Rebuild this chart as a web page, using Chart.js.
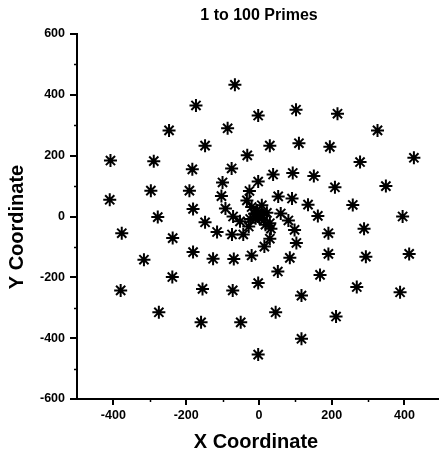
<!DOCTYPE html>
<html>
<head>
<meta charset="utf-8">
<title>1 to 100 Primes</title>
<script src="https://cdn.jsdelivr.net/npm/chart.js@4.4.1/dist/chart.umd.min.js"></script>
<style>
  html, body { margin: 0; padding: 0; background: #fff; }
  #wrap { width: 439px; height: 455px; position: relative; }
</style>
</head>
<body>
<div id="wrap"><canvas id="primeChart"></canvas></div>
<script>
// point positions
const primeX = [
  -66, -173, -247, -2, 102, -86, -148, 30, 110, 216, 326, 195, -32,
  -408, -289, -183, -297, -191, -410, -181, -278, -377, -237, -181, -316, -238,
  -75, 39, 93, 151, -100, -2, -26, -103, -33, 53, 91, 135, -92, 162, -71, 60,
  -148, 81, -52, -115, -74, -43, 33, 30, 98, 103, 15, -126, -69, -20, 85, 52, -2,
  278, 426, 209, 349, 258, 395, 289, 191, 191, 294, 413, 168,
  -380, -275, -155, -72, 117, 46, -159, -50, 117, -2, 269, 388, 212,
  -2, -3, 1, 5, -9, 11, -12, 14, -5, 22, -24, 18, -20, 8, 30, -28
];
const primeY = [
  433, 365, 283, 332, 351, 290, 233, 233, 241, 338, 283, 229, 201,
  184, 182, 155, 85, 85, 55, 25, -2, -55, -71, -117, -142, -199,
  158, 138, 143, 133, 112, 115, 84, 67, 53, 66, 59, 39, 26, 2, 0, 10,
  -19, -13, -16, -51, -59, -59, -40, -73, -44, -87, -99, -139, -140, -128, -136, -181, -219,
  179, 193, 96, 100, 38, 0, -40, -55, -123, -132, -123, -192,
  -243, -315, -238, -243, -260, -315, -348, -348, -402, -454, -232, -249, -329,
  2, 0, -5, 6, -6, 3, 9, -12, 20, 12, -8, -27, 31, 37, -22, -33
];

const xTicks = [-400, -200, 0, 200, 400];
const xMinorTicks = [-300, -100, 100, 300];
const yMinorTicks = [-500, -300, -100, 100, 300, 500];

const chartTitle = '1 to 100 Primes';
const xTitle = 'X Coordinate';
const yTitle = 'Y Coordinate';

const points = primeX.map((x, i) => ({ x: x, y: primeY[i] }));

const decorations = {
  id: 'decorations',
  afterDraw(chart) {
    const ctx = chart.ctx;
    const area = chart.chartArea;
    const xs = chart.scales.x;
    const ys = chart.scales.y;
    ctx.save();
    ctx.strokeStyle = '#000';
    ctx.lineWidth = 1.5;
    xMinorTicks.forEach(v => {
      const px = Math.round(xs.getPixelForValue(v)) + 0.5;
      ctx.beginPath();
      ctx.moveTo(px, area.bottom);
      ctx.lineTo(px, area.bottom + 3);
      ctx.stroke();
    });
    yMinorTicks.forEach(v => {
      const py = Math.round(ys.getPixelForValue(v)) + 0.5;
      ctx.beginPath();
      ctx.moveTo(area.left, py);
      ctx.lineTo(area.left - 3, py);
      ctx.stroke();
    });

    ctx.fillStyle = '#000';
    ctx.textAlign = 'center';
    ctx.textBaseline = 'alphabetic';
    ctx.font = 'bold 16px Arial, "Liberation Sans", sans-serif';
    ctx.fillText(chartTitle, 259, 20);

    ctx.font = 'bold 20px Arial, "Liberation Sans", sans-serif';
    ctx.fillText(xTitle, 256, 448);

    ctx.translate(23, 227);
    ctx.rotate(-Math.PI / 2);
    ctx.fillText(yTitle, 0, 0);
    ctx.restore();
  }
};

const tickFont = { family: 'Arial, "Liberation Sans", sans-serif', size: 12.5, weight: 'bold' };

new Chart(document.getElementById('primeChart'), {
  type: 'scatter',
  data: {
    datasets: [{
      label: 'Primes',
      data: points,
      pointStyle: 'star',
      pointRadius: 6.5,
      pointHoverRadius: 6.5,
      borderColor: '#000',
      backgroundColor: '#000',
      borderWidth: 2,
      clip: false
    }]
  },
  options: {
    responsive: true,
    maintainAspectRatio: false,
    animation: false,
    layout: { autoPadding: false, padding: { top: 34, right: 0, left: 0, bottom: 0 } },
    plugins: {
      legend: { display: false },
      tooltip: { enabled: false },
      title: { display: false }
    },
    scales: {
      x: {
        type: 'linear',
        min: -500,
        max: 495,
        afterBuildTicks: scale => { scale.ticks = xTicks.map(v => ({ value: v })); },
        afterFit: scale => { scale.height = 56; },
        border: { display: true, color: '#000', width: 2 },
        grid: { display: true, drawOnChartArea: false, drawTicks: true, tickLength: 6, color: '#000', lineWidth: 2 },
        ticks: { color: '#000', font: tickFont, padding: 3, maxRotation: 0 }
      },
      y: {
        type: 'linear',
        min: -600,
        max: 600,
        ticks: { stepSize: 200, color: '#000', font: tickFont, padding: 5 },
        afterFit: scale => { scale.width = 77; },
        border: { display: true, color: '#000', width: 2 },
        grid: { display: true, drawOnChartArea: false, drawTicks: true, tickLength: 7, color: '#000', lineWidth: 2 }
      }
    }
  },
  plugins: [decorations]
});
</script>
</body>
</html>
